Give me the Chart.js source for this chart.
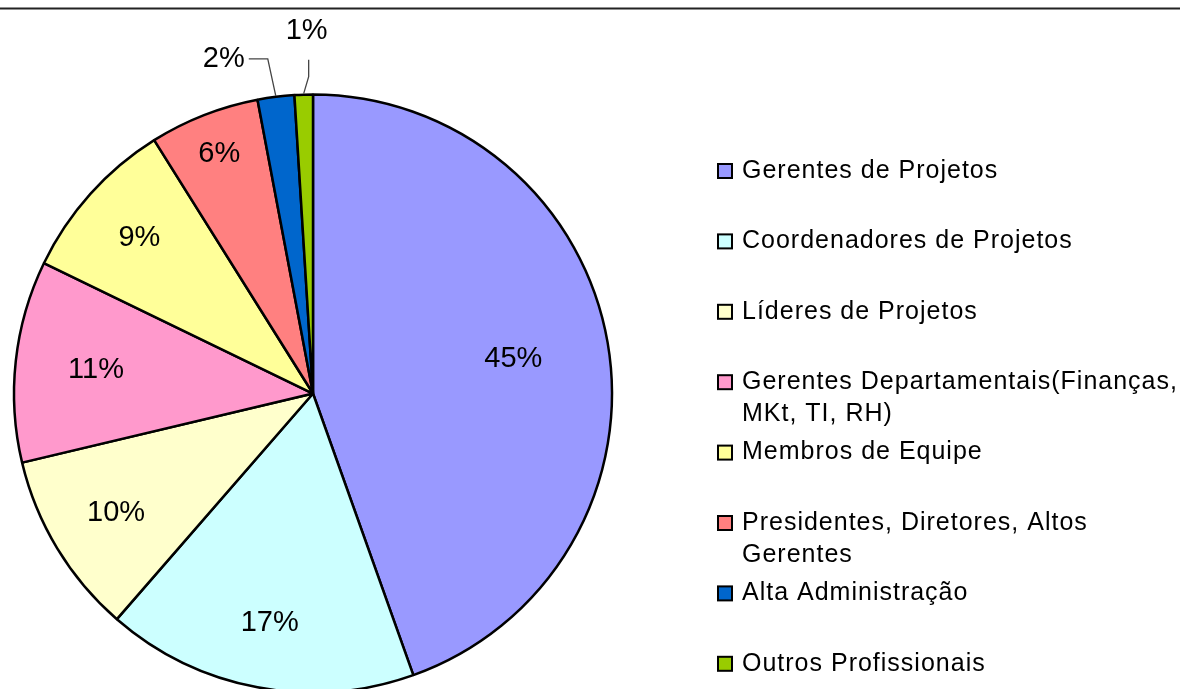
<!DOCTYPE html>
<html>
<head>
<meta charset="utf-8">
<script src="https://cdn.jsdelivr.net/npm/chart.js@4.4.0/dist/chart.umd.min.js"></script>
<style>
  html, body { margin: 0; padding: 0; background: #fff; }
  #wrap { width: 1180px; height: 689px; position: relative; }
</style>
</head>
<body>
<div id="wrap"><canvas id="grafico-pizza"></canvas></div>
<script>
// dados
const categorias = [
    "Gerentes de Projetos",
    "Coordenadores de Projetos",
    "Líderes de Projetos",
    "Gerentes Departamentais(Finanças, MKt, TI, RH)",
    "Membros de Equipe",
    "Presidentes, Diretores, Altos Gerentes",
    "Alta Administração",
    "Outros Profissionais"
];
const percentuais = [45, 17, 10, 11, 9, 6, 2, 1];
// quebras de linha da legenda
const legendaLinhas = [
    ["Gerentes de Projetos"],
    ["Coordenadores de Projetos"],
    ["Líderes de Projetos"],
    ["Gerentes Departamentais(Finanças,", "MKt, TI, RH)"],
    ["Membros de Equipe"],
    ["Presidentes, Diretores, Altos", "Gerentes"],
    ["Alta Administração"],
    ["Outros Profissionais"]
];
const cores = ["#9999FF", "#CCFFFF", "#FFFFCC", "#FF99CC", "#FFFF99", "#FF8080", "#0066CC", "#99CC00"];

// rótulos dentro das fatias (fator do raio) e fora, com linha guia
const fatorRotulo = [0.68, 0.78, 0.77, 0.73, 0.78, 0.86];
const guias = {
    6: { cotovelo: [-8, -37], fim: [-19, 0], alinhar: "right", texto: [-4, 0] },
    7: { cotovelo: [5, -17], fim: [0, -17], alinhar: "center", texto: [-2, -29] }
};

const fonte = '"Liberation Sans", Arial, sans-serif';

const rotulosPlugin = {
    id: "rotulos",
    afterDatasetsDraw(chart) {
        const ctx = chart.ctx;
        const meta = chart.getDatasetMeta(0);
        ctx.save();
        ctx.fillStyle = "#000";
        ctx.font = "29px " + fonte;
        ctx.textBaseline = "middle";
        meta.data.forEach((arc, i) => {
            const p = arc.getProps(["startAngle", "endAngle", "x", "y", "outerRadius"], true);
            const meio = (p.startAngle + p.endAngle) / 2;
            const txt = percentuais[i] + "%";
            if (guias[i]) {
                const g = guias[i];
                const ax = p.x + Math.cos(meio) * (p.outerRadius + 1);
                const ay = p.y + Math.sin(meio) * (p.outerRadius + 1);
                const cx = ax + g.cotovelo[0], cy = ay + g.cotovelo[1];
                const fx = cx + g.fim[0], fy = cy + g.fim[1];
                ctx.strokeStyle = "#444";
                ctx.lineWidth = 1.3;
                ctx.beginPath();
                ctx.moveTo(ax, ay);
                ctx.lineTo(cx, cy);
                ctx.lineTo(fx, fy);
                ctx.stroke();
                ctx.textAlign = g.alinhar;
                ctx.fillText(txt, fx + g.texto[0], fy + g.texto[1]);
            } else {
                const r = p.outerRadius * fatorRotulo[i];
                ctx.textAlign = "center";
                ctx.fillText(txt, p.x + Math.cos(meio) * r, p.y + Math.sin(meio) * r);
            }
        });
        ctx.restore();
    }
};

const legendaPlugin = {
    id: "legendaLateral",
    afterDraw(chart) {
        const ctx = chart.ctx;
        ctx.save();
        // linha superior
        ctx.strokeStyle = "#222";
        ctx.lineWidth = 2;
        ctx.beginPath();
        ctx.moveTo(0, 8.5);
        ctx.lineTo(chart.width, 8.5);
        ctx.stroke();

        ctx.font = "25px " + fonte;
        ctx.letterSpacing = "1px";
        ctx.textBaseline = "middle";
        ctx.textAlign = "left";
        const y0 = 171, passo = 70.4;
        legendaLinhas.forEach((linhas, i) => {
            const y = y0 + i * passo;
            ctx.fillStyle = cores[i];
            ctx.fillRect(718, y - 7, 14, 14);
            ctx.strokeStyle = "#000";
            ctx.lineWidth = 2;
            ctx.strokeRect(718, y - 7, 14, 14);
            ctx.fillStyle = "#000";
            linhas.forEach((t, k) => ctx.fillText(t, 742, y + k * 32));
        });
        ctx.restore();
    }
};

const canvas = document.getElementById("grafico-pizza");
const chart = new Chart(canvas.getContext("2d"), {
    type: "pie",
    data: {
        labels: categorias,
        datasets: [{
            data: percentuais,
            backgroundColor: cores,
            borderColor: "#000",
            borderWidth: 2.5,
            clip: false
        }]
    },
    options: {
        responsive: true,
        maintainAspectRatio: false,
        animation: false,
        radius: 299,
        layout: { padding: { left: 13, right: 567, top: 100, bottom: 2 } },
        plugins: {
            legend: { display: false },
            tooltip: { enabled: false }
        }
    },
    plugins: [rotulosPlugin, legendaPlugin]
});
</script>
</body>
</html>
